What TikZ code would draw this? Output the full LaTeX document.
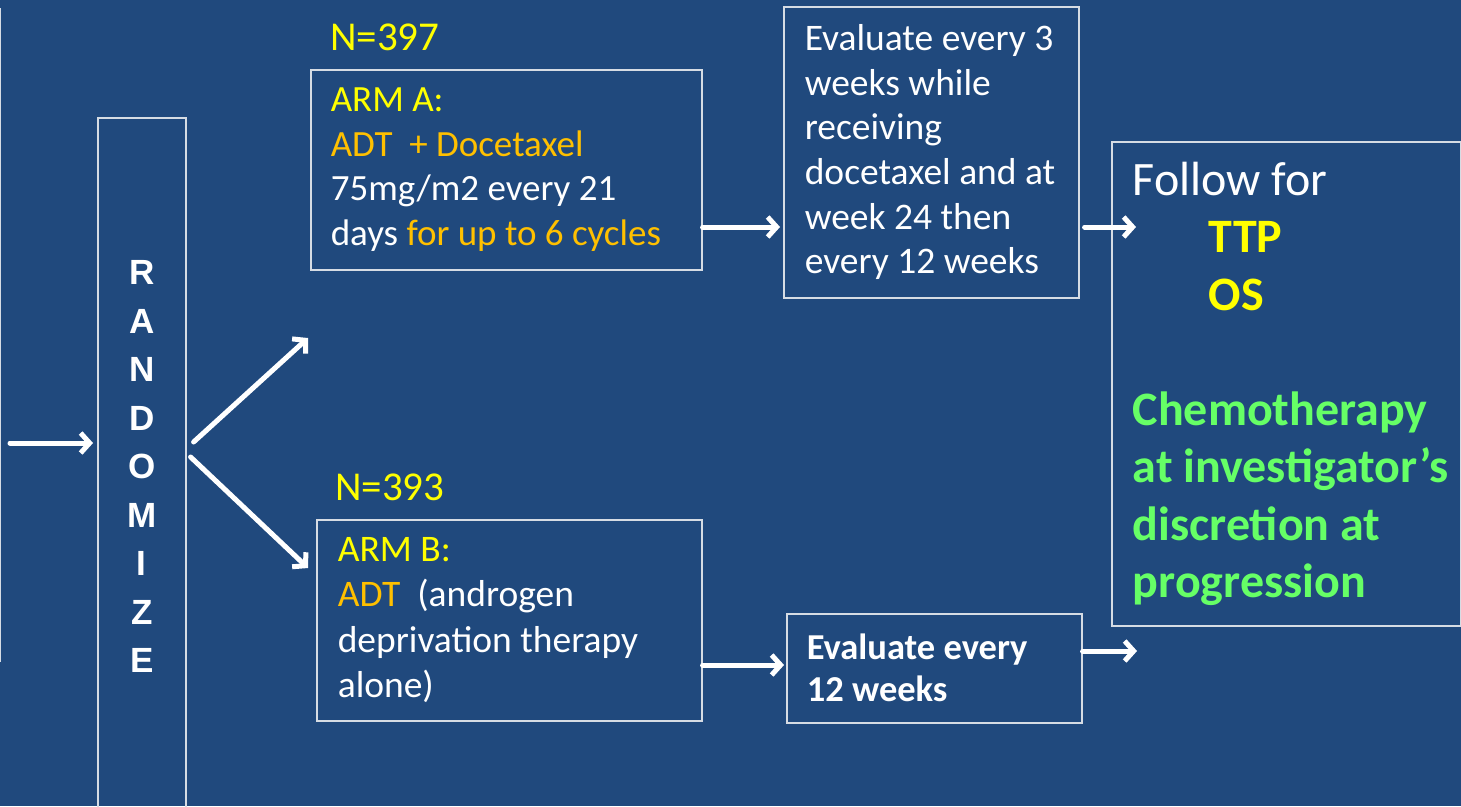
\documentclass[tikz,border=0pt]{standalone}
\usepackage{fontspec}
\setmainfont{Carlito}
\newfontfamily\arialfont{Liberation Sans}
\usepackage{tikz}
\usetikzlibrary{arrows.meta}
\usetikzlibrary{positioning}
\usepackage{xcolor}
\definecolor{slidebg}{RGB}{32,73,125}
\definecolor{boxline}{RGB}{214,220,228}
\definecolor{armyellow}{RGB}{255,255,0}
\definecolor{armorange}{RGB}{255,192,0}
\definecolor{chemogreen}{RGB}{102,255,102}
\tikzset{
  box/.style={draw=boxline, line width=1.6pt, anchor=north west, inner ysep=0pt, align=flush left, text=white},
  arr/.style={white, line width=5pt, line cap=round, -{Straight Barb[length=9pt,width=20pt]}},
  count/.style={anchor=west, inner sep=0pt, text=armyellow, font=\fontsize{41}{48}\selectfont}
}

\begin{document}
\begin{tikzpicture}[x=1pt,y=-1pt]
\useasboundingbox (0,0) rectangle (1461,806);
\fill[slidebg] (0,0) rectangle (1461,806);
\node[draw=boxline, line width=1.6pt, anchor=north east, minimum width=200pt, minimum height=652pt] (prev) at (1.2,8) {};
\node[draw=boxline, line width=1.6pt, anchor=north west, minimum width=88pt, minimum height=698pt, align=center, text=white, font=\arialfont\bfseries\fontsize{35}{48.5}\selectfont] (rnd) at (97,117) {R\\A\\N\\D\\O\\M\\I\\Z\\E};
\node[count] (nA) at (330,37) {N=397};
\node[count] (nB) at (335,487) {N=393};
\node[box, inner xsep=20pt, text width=351pt, minimum height=200pt, font=\fontsize{37}{44.5}\selectfont] (armA) at (310,69)
  {{\color{armyellow}ARM A:}\\
   {\color{armorange}ADT\ \ + Docetaxel}\\
   75mg/m2 every 21\\
   days {\color{armorange}for up to 6 cycles}};
\node[box, inner xsep=21pt, text width=253pt, minimum height=291pt, font=\fontsize{37.5}{44.6}\selectfont] (evalA) at (783,6)
  {Evaluate every 3\\ weeks while\\ receiving\\ docetaxel and at\\ week 24 then\\ every 12 weeks};
\node[box, inner xsep=21pt, text width=307pt, minimum height=484pt, font=\fontsize{48}{57.5}\selectfont] (follow) at (1111,141)
  {Follow for\\
   \hspace*{76pt}{\bfseries\color{armyellow}TTP}\\
   \hspace*{76pt}{\bfseries\color{armyellow}OS}\\[57.5pt]
   {\bfseries\color{chemogreen}Chemotherapy}\\
   \mbox{\bfseries\color{chemogreen}at investigator’s}\\
   {\bfseries\color{chemogreen}discretion at}\\
   {\bfseries\color{chemogreen}progression}};
\node[box, inner xsep=21pt, text width=343pt, minimum height=201pt, font=\fontsize{37.5}{45.5}\selectfont] (armB) at (316,519)
  {{\color{armyellow}ARM B:}\\
   {\color{armorange}ADT}\ \ (androgen\\
   deprivation therapy\\
   alone)};
\node[box, inner xsep=20pt, text width=255pt, minimum height=109pt, font=\bfseries\fontsize{36.5}{42}\selectfont] (evalB) at (786,613)
  {Evaluate every\\ 12 weeks};
\coordinate (start) at (10,443);
\coordinate (upA) at (308,338);
\coordinate (downB) at (308,568);
\coordinate (toF) at (1136,227);
\coordinate (outB) at (1137,651);
\draw[arr, shorten >=4pt] (start) -- (start -| rnd.west);
\draw[arr] ([xshift=7pt]rnd.east |- 0,442) -- (upA);
\draw[arr] ([xshift=4pt]rnd.east |- 0,457) -- (downB);
\draw[arr, shorten >=3pt] (armA.east |- toF) -- (evalA.west |- toF);
\draw[arr] ([xshift=5pt]evalA.east |- toF) -- (toF);
\draw[arr, shorten >=2pt] (armB.east |- 0,665) -- (evalB.west |- 0,665);
\draw[arr] (evalB.east |- outB) -- (outB);
\end{tikzpicture}
\end{document}
